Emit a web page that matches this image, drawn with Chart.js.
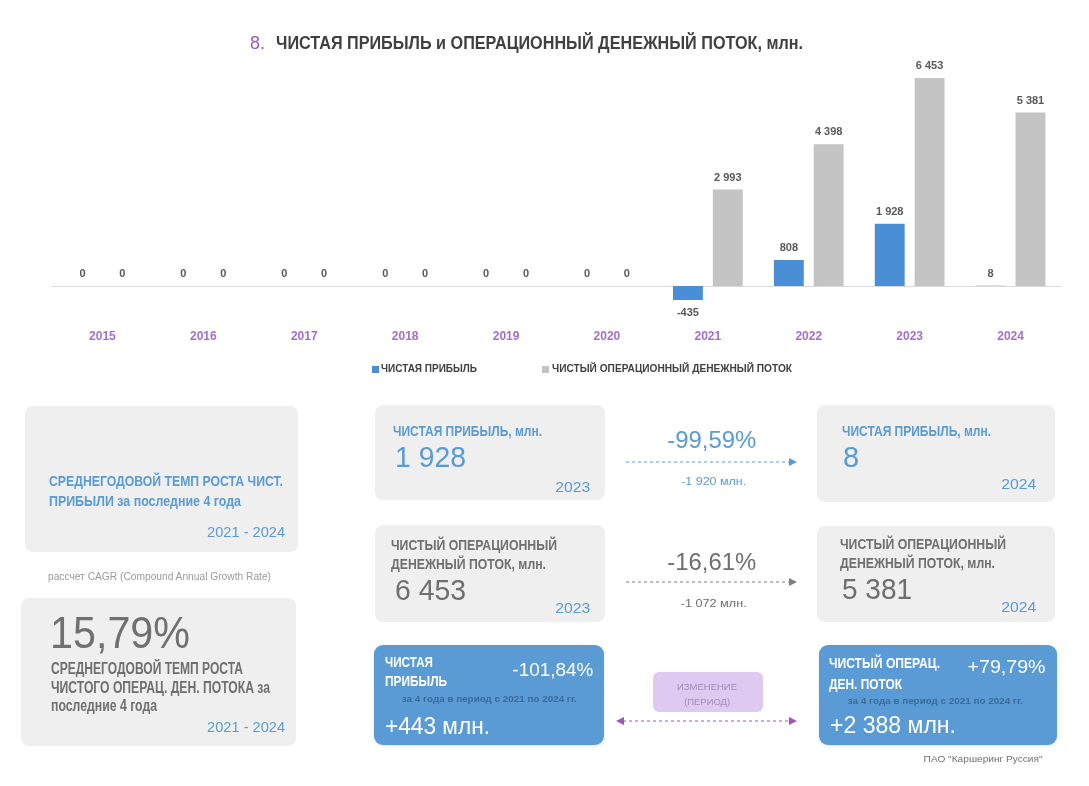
<!DOCTYPE html>
<html><head><meta charset="utf-8">
<script src="https://cdn.jsdelivr.net/npm/chart.js@4.4.1/dist/chart.umd.min.js"></script>
<style>
body{margin:0;background:#fff;width:1089px;height:786px;position:relative;overflow:hidden;font-family:"Liberation Sans",Arial,sans-serif;}
.t{position:absolute;line-height:1;white-space:nowrap;display:inline-block;}
.card{position:absolute;background:#efeff0;border-radius:8px;}
.bcard{position:absolute;background:#5b9bd5;border-radius:9px;box-shadow:0 1px 3px rgba(0,0,0,0.12);}
#wrap{position:absolute;left:0;top:0;width:1089px;height:350px;}
</style></head>
<body>
<div id="wrap"><canvas id="c" width="1089" height="350"></canvas></div>

<div class="card" style="left:25px;top:406px;width:273px;height:146px;"></div>
<div class="card" style="left:21px;top:598px;width:275px;height:148px;"></div>
<div class="card" style="left:375px;top:405px;width:230px;height:95px;"></div>
<div class="card" style="left:817px;top:405px;width:238px;height:97px;"></div>
<div class="card" style="left:375px;top:525px;width:230px;height:97px;"></div>
<div class="card" style="left:817px;top:526px;width:238px;height:96px;"></div>
<div class="bcard" style="left:374px;top:645px;width:230px;height:100px;"></div>
<div class="bcard" style="left:819px;top:645px;width:238px;height:100px;"></div>
<div class="card" style="left:653px;top:672px;width:110px;height:40px;background:#dec9f0;border-radius:6px;"></div>

<svg style="position:absolute;left:0;top:0;" width="1089" height="786">
  <rect x="372" y="366" width="7" height="7" fill="#4a8fd6"/>
  <rect x="542" y="366" width="7" height="7" fill="#c4c4c4"/>
  <line x1="626" y1="462" x2="790" y2="462" stroke="#5b9bd5" stroke-width="1.2" stroke-dasharray="3,3"/>
  <polygon points="789,458 797,462 789,466" fill="#5b9bd5"/>
  <line x1="626" y1="582" x2="790" y2="582" stroke="#808080" stroke-width="1.2" stroke-dasharray="3,3"/>
  <polygon points="789,578 797,582 789,586" fill="#808080"/>
  <line x1="623" y1="721" x2="790" y2="721" stroke="#9b59b6" stroke-width="1.2" stroke-dasharray="3,3"/>
  <polygon points="624,717 616,721 624,725" fill="#9b59b6"/>
  <polygon points="789,717 797,721 789,725" fill="#9b59b6"/>
</svg>

<script>
const years = ['2015','2016','2017','2018','2019','2020','2021','2022','2023','2024'];
const netProfit = [0,0,0,0,0,0,-435,808,1928,8];
const opCashFlow = [0,0,0,0,0,0,2993,4398,6453,5381];
const seriesNames = ['ЧИСТАЯ ПРИБЫЛЬ','ЧИСТЫЙ ОПЕРАЦИОННЫЙ ДЕНЕЖНЫЙ ПОТОК'];

const BLUE='#5b9bd5', GRAY='#6f6f6f', DARK='#404040';
function T(html,o){
  const d=document.createElement('div'); d.className='t'; d.innerHTML=html;
  d.style.fontSize=o.s+'px'; d.style.color=o.c||GRAY; d.style.fontWeight=o.b?'bold':'normal';
  document.body.appendChild(d);
  const w0=d.getBoundingClientRect().width;
  const k=o.w? o.w/w0 : 1;
  const al=o.a||'l';
  let left=o.x;
  if(al==='r') left=o.x-w0; else if(al==='c') left=o.x-w0/2;
  d.style.left=left+'px';
  d.style.top=(o.y-0.8465*o.s)+'px';
  d.style.transformOrigin=(al==='r'?'100%':al==='c'?'50%':'0')+' 0';
  d.style.transform='scaleX('+k+')';
  return d;
}
// title
T('8.',{x:250,y:49,s:19,c:'#8e5bc0',w:15});
T('ЧИСТАЯ ПРИБЫЛЬ и ОПЕРАЦИОННЫЙ ДЕНЕЖНЫЙ ПОТОК, млн.',{x:276,y:49,s:19,b:1,c:DARK,w:527});
// legend
T(seriesNames[0],{x:381,y:373,s:11.5,b:1,c:DARK,w:96});
T(seriesNames[1],{x:552,y:373,s:11.5,b:1,c:DARK,w:240});
// left cards
T('СРЕДНЕГОДОВОЙ ТЕМП РОСТА ЧИСТ.',{x:49,y:486,s:15,b:1,c:BLUE,w:234});
T('ПРИБЫЛИ за последние 4 года',{x:49,y:506,s:15,b:1,c:BLUE,w:192});
T('2021 - 2024',{x:285,y:537,s:15,c:BLUE,a:'r',w:78});
T('рассчет CAGR (Compound Annual Growth Rate)',{x:48,y:580,s:10,c:'#9a9a9a',w:223});
T('15,79%',{x:50,y:648,s:44,c:'#707070',w:140});
T('СРЕДНЕГОДОВОЙ ТЕМП РОСТА',{x:51,y:675,s:16,b:1,w:192});
T('ЧИСТОГО ОПЕРАЦ. ДЕН. ПОТОКА за',{x:51,y:694,s:16,b:1,w:219});
T('последние 4 года',{x:51,y:712,s:16,b:1,w:106});
T('2021 - 2024',{x:285,y:732,s:15,c:BLUE,a:'r',w:78});
// card A
T('ЧИСТАЯ ПРИБЫЛЬ, млн.',{x:393,y:436,s:15,b:1,c:BLUE,w:149});
T('1 928',{x:395,y:468,s:29,c:BLUE,w:71});
T('2023',{x:590,y:492,s:14.5,c:BLUE,a:'r',w:35});
// card B
T('ЧИСТАЯ ПРИБЫЛЬ, млн.',{x:842,y:436,s:15,b:1,c:BLUE,w:149});
T('8',{x:843,y:468,s:29,c:BLUE});
T('2024',{x:1036,y:489,s:14.5,c:BLUE,a:'r',w:35});
// card C
T('ЧИСТЫЙ ОПЕРАЦИОННЫЙ',{x:391,y:550,s:15,b:1,w:166});
T('ДЕНЕЖНЫЙ ПОТОК, млн.',{x:391,y:569,s:15,b:1,w:155});
T('6 453',{x:395,y:601,s:29,w:71});
T('2023',{x:590,y:613,s:14.5,c:BLUE,a:'r',w:35});
// card D
T('ЧИСТЫЙ ОПЕРАЦИОННЫЙ',{x:840,y:549,s:15,b:1,w:166});
T('ДЕНЕЖНЫЙ ПОТОК, млн.',{x:840,y:568,s:15,b:1,w:155});
T('5 381',{x:842,y:600,s:29,w:70});
T('2024',{x:1036,y:612,s:14.5,c:BLUE,a:'r',w:35});
// change arrows
T('-99,59%',{x:712,y:448,s:23,c:BLUE,a:'c',w:89});
T('-1 920 млн.',{x:714,y:485,s:11,c:BLUE,a:'c',w:65});
T('-16,61%',{x:712,y:570,s:23,c:GRAY,a:'c',w:89});
T('-1 072 млн.',{x:714,y:607,s:11,c:GRAY,a:'c',w:66});
// blue card E
T('ЧИСТАЯ',{x:385,y:667,s:15.5,b:1,c:'#fff',w:48});
T('ПРИБЫЛЬ',{x:385,y:686,s:15.5,b:1,c:'#fff',w:62});
T('-101,84%',{x:593,y:676,s:19,c:'#fff',a:'r',w:81});
T('за 4 года в период с 2021 по 2024 гг.',{x:489,y:702,s:9.5,b:1,c:'#3a6a98',a:'c',w:175});
T('+443 млн.',{x:385,y:734,s:23,c:'#fff',w:105});
// blue card F
T('ЧИСТЫЙ ОПЕРАЦ.',{x:829,y:668,s:15.5,b:1,c:'#fff',w:111});
T('ДЕН. ПОТОК',{x:829,y:689,s:15.5,b:1,c:'#fff',w:73});
T('+79,79%',{x:1046,y:673,s:19,c:'#fff',a:'r',w:78});
T('за 4 года в период с 2021 по 2024 гг.',{x:935,y:704,s:9.5,b:1,c:'#3a6a98',a:'c',w:175});
T('+2 388 млн.',{x:830,y:733,s:23,c:'#fff',w:126});
// period box
T('ИЗМЕНЕНИЕ',{x:707,y:690,s:9.5,c:'#a58cbd',a:'c',w:60});
T('(ПЕРИОД)',{x:707,y:705,s:9.5,c:'#a58cbd',a:'c',w:46});
T('ПАО "Каршеринг Руссия"',{x:1043,y:762,s:9.5,c:'#707070',a:'r',w:119});

const FONT='"Liberation Sans",Arial,sans-serif';
function fmt(v){ const s=Math.abs(v).toString().replace(/\B(?=(\d{3})+(?!\d))/g,' '); return (v<0?'-':'')+s; }

const baseline={
  id:'baseline',
  beforeDatasetsDraw(chart){
    const {ctx,chartArea,scales}=chart;
    const y=Math.round(scales.y.getPixelForValue(0));
    ctx.save(); ctx.strokeStyle='#d9d9d9'; ctx.lineWidth=1;
    ctx.beginPath(); ctx.moveTo(chartArea.left,y+0.5); ctx.lineTo(chartArea.right,y+0.5); ctx.stroke(); ctx.restore();
  }
};
const vlabels={
  id:'vlabels',
  afterDatasetsDraw(chart){
    const {ctx}=chart;
    ctx.save();
    ctx.font='bold 11px '+FONT; ctx.fillStyle='#595959'; ctx.textAlign='center'; ctx.textBaseline='middle';
    chart.data.datasets.forEach((ds,i)=>{
      chart.getDatasetMeta(i).data.forEach((el,j)=>{
        const v=ds.data[j];
        const y=v<0? el.y+13 : el.y-12;
        ctx.fillText(fmt(v),el.x,y);
      });
    });
    ctx.restore();
  }
};

new Chart(document.getElementById('c'),{
  type:'bar',
  data:{labels:years,datasets:[
    {label:seriesNames[0],data:netProfit,backgroundColor:'#4a8fd6'},
    {label:seriesNames[1],data:opCashFlow,backgroundColor:'#c4c4c4'}
  ]},
  options:{
    responsive:false,animation:false,
    categoryPercentage:0.79,barPercentage:0.75,
    layout:{padding:{top:60,left:52,right:28,bottom:0}},
    plugins:{legend:{display:false},tooltip:{enabled:false},title:{display:false}},
    scales:{
      x:{grid:{display:false,drawTicks:false},border:{display:false},
         ticks:{color:'#a56fd0',font:{family:FONT,size:12,weight:'bold'},padding:9},
         afterFit(s){s.height=30;}},
      y:{display:false,min:-1055,max:7012}
    }
  },
  plugins:[baseline,vlabels]
});
</script>
</body></html>
